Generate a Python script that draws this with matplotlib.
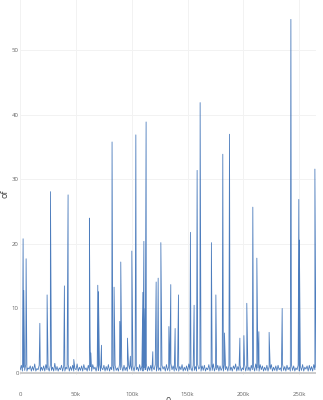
import numpy as np
import matplotlib
matplotlib.use('Agg')
import matplotlib.pyplot as plt

plt.rcParams['font.family'] = ['Open Sans', 'DejaVu Sans']

# spikes: position (index) and height
spike_x = [2600, 3200, 5300, 17600, 24100, 27100, 39600, 42900, 48000, 62000,
           62600, 63300, 69500, 70100, 72800, 82300, 82800, 84100, 89200, 90100,
           96100, 98700, 100000, 103600, 109900, 110800, 111900, 112800, 118800, 121100,
           121800, 123600, 126000, 133200, 134900, 138800, 141800, 152500, 155800, 158500,
           161200, 171300, 175300, 181500, 183000, 187500, 196800, 200400, 203000, 208400,
           212000, 213800, 223000, 234700, 242500, 249600, 250100, 264000]
spike_y = [20.8, 12.8, 17.7, 7.7, 12.1, 28.1, 13.5, 27.6, 2.1, 24.0,
           5.7, 3.1, 13.6, 12.6, 4.3, 35.8, 8.2, 13.3, 8.0, 17.2,
           5.4, 2.6, 18.9, 36.9, 12.5, 20.4, 10.0, 38.9, 3.3, 3.5,
           14.1, 14.7, 20.2, 7.2, 13.7, 6.9, 12.1, 21.8, 10.5, 31.4,
           41.9, 20.2, 12.1, 33.9, 6.2, 37.0, 5.4, 5.8, 10.8, 25.7,
           17.8, 6.4, 6.3, 10.0, 54.8, 26.9, 20.6, 31.6]

# noisy baseline, one reading every 1000 samples
base_step = 1000
base_y = [
    0.5, 1.2, 0.3, 0.9, 0.4, 1.3, 0.3, 0.8, 0.6, 1.1, 0.3, 1.0, 0.4, 1.4, 0.3, 0.7, 0.5, 1.2, 0.3, 0.9,
    0.4, 1.1, 0.3, 1.3, 0.5, 0.8, 0.3, 1.2, 0.4, 0.9, 0.3, 1.5, 0.4, 1.0, 0.3, 0.8, 0.5, 1.2, 0.3, 1.1,
    0.3, 0.9, 0.6, 1.3, 0.3, 1.0, 0.4, 1.2, 0.3, 0.7, 0.5, 1.4, 0.3, 0.9, 0.4, 1.1, 0.3, 1.3, 0.5, 0.8,
    0.3, 1.2, 0.4, 1.0, 0.3, 1.3, 0.6, 0.9, 0.3, 1.1, 0.4, 1.4, 0.3, 0.8, 0.5, 1.2, 0.3, 1.0, 0.4, 1.3,
    0.3, 0.9, 0.5, 1.1, 0.3, 1.2, 0.4, 0.8, 0.3, 1.4, 0.5, 1.0, 0.3, 1.2, 0.4, 0.9, 0.3, 1.3, 0.6, 1.1,
    0.4, 1.0, 0.3, 1.2, 0.5, 0.9, 0.3, 1.3, 0.4, 1.1, 0.3, 0.8, 0.5, 1.4, 0.3, 1.0, 0.4, 1.2, 0.3, 0.9,
    0.5, 1.3, 0.3, 1.1, 0.4, 0.8, 0.3, 1.2, 0.6, 1.0, 0.3, 1.3, 0.4, 0.9, 0.3, 1.5, 0.5, 1.1, 0.3, 0.8,
    0.4, 1.2, 0.3, 1.0, 0.5, 1.3, 0.3, 0.9, 0.4, 1.1, 0.3, 1.4, 0.5, 0.8, 0.3, 1.2, 0.4, 1.0, 0.3, 1.3,
    0.6, 0.9, 0.3, 1.1, 0.4, 1.2, 0.3, 0.8, 0.5, 1.3, 0.3, 1.0, 0.4, 1.4, 0.3, 0.9, 0.5, 1.2, 0.3, 1.1,
    0.4, 0.8, 0.3, 1.3, 0.5, 1.0, 0.3, 1.2, 0.4, 0.9, 0.3, 1.1, 0.6, 1.4, 0.3, 1.0, 0.4, 1.2, 0.3, 0.8,
    0.5, 1.3, 0.3, 1.1, 0.4, 0.9, 0.3, 1.2, 0.5, 1.0, 0.3, 1.4, 0.4, 0.8, 0.3, 1.3, 0.5, 1.1, 0.3, 0.9,
    0.4, 1.2, 0.3, 1.0, 0.6, 1.3, 0.3, 0.9, 0.4, 1.1, 0.3, 1.2, 0.5, 0.8, 0.3, 1.4, 0.4, 1.0, 0.3, 1.2,
    0.5, 0.9, 0.3, 1.3, 0.4, 1.1, 0.3, 0.8, 0.5, 1.2, 0.3, 1.0, 0.4, 1.3, 0.3, 0.9, 0.6, 1.1, 0.3, 1.2,
    0.4, 1.0, 0.3, 1.3, 0.5, 0.9,
]

xtick_vals = [0, 50000, 100000, 150000, 200000, 250000]
xtick_text = ['0', '50k', '100k', '150k', '200k', '250k']
ytick_vals = [0, 10, 20, 30, 40, 50]

# merge baseline + spikes in index order
bx = list(np.arange(len(base_y)) * base_step)
pts = sorted(list(zip(bx, base_y)) + list(zip(spike_x, spike_y)))
xs = [p[0] for p in pts]
ys = [p[1] for p in pts]

W, H = 323, 400
fig = plt.figure(figsize=(W / 100, H / 100), dpi=100)
ax = fig.add_axes([20.2 / W, 25 / H, (316 - 20.2) / W, 375 / H])

ax.plot(xs, ys, color='#3a6fb6', lw=0.6, alpha=0.9, zorder=3)

ax.set_xlim(0, 265000)
ax.set_ylim(-0.31, 57.8)
ax.axhline(0, color='#c8c8c8', lw=1.3, zorder=2)

ax.set_xticks(xtick_vals)
ax.set_xticklabels(xtick_text)
ax.set_yticks(ytick_vals)
ax.tick_params(axis='both', length=0, labelsize=4.3, labelcolor='#666666')
ax.tick_params(axis='x', pad=12)
ax.tick_params(axis='y', pad=1)
ax.grid(True, color='#f2f2f2', lw=0.7, zorder=0)
for s in ax.spines.values():
    s.set_visible(False)

fig.text(5.5 / W, 1 - 194 / H, 'of', rotation=90, ha='center', va='center', fontsize=6.5, color='#444444')
fig.text(168 / W, 1 - 396.5 / H, '0', ha='center', va='top', fontsize=6.5, color='#444444')

fig.savefig('out.png', dpi=100)
